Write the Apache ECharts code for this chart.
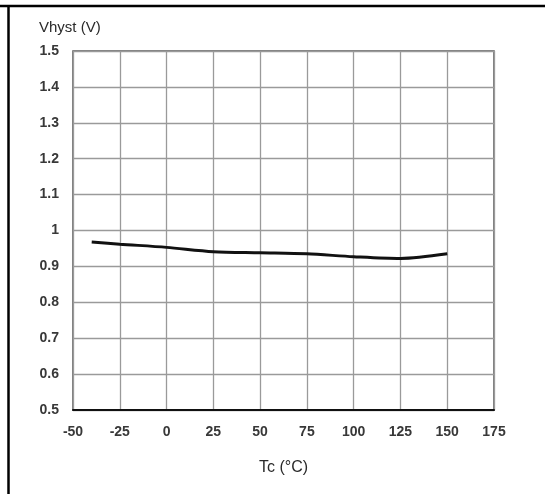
<!DOCTYPE html>
<html>
<head>
<meta charset="utf-8">
<script src="https://cdn.jsdelivr.net/npm/echarts@6/dist/echarts.min.js"></script>
<style>
html,body{margin:0;padding:0;background:#fff;}
#c{width:545px;height:494px;}
</style>
</head>
<body>
<div id="c"></div>
<script>
// Data
const temps = [-40, -25, 0, 25, 50, 75, 100, 125, 150];
const vhyst = [0.968, 0.962, 0.953, 0.941, 0.938, 0.935, 0.927, 0.922, 0.935];
const xTicks = [-50, -25, 0, 25, 50, 75, 100, 125, 150, 175];
const yTicks = [0.5, 0.6, 0.7, 0.8, 0.9, 1, 1.1, 1.2, 1.3, 1.4, 1.5];
const yTitle = 'Vhyst (V)';
const xTitle = 'Tc (°C)';

const font = 'Liberation Sans, Arial, sans-serif';
const chart = echarts.init(document.getElementById('c'));
chart.setOption({
  animation: false,
  backgroundColor: '#fff',
  grid: {left: 73, right: 51, top: 51, bottom: 84, show: true, borderColor: '#555', borderWidth: 1.5},
  xAxis: {
    type: 'value', min: xTicks[0], max: xTicks[xTicks.length - 1], interval: 25,
    name: xTitle, nameLocation: 'middle', nameGap: 50,
    nameTextStyle: {fontFamily: font, fontSize: 16, color: '#2a2a2a'},
    axisLine: {show: true, onZero: false, lineStyle: {color: '#111', width: 2}},
    axisTick: {show: false},
    axisLabel: {fontFamily: font, fontSize: 14, fontWeight: 'bold', color: '#383838', margin: 15},
    splitLine: {show: true, lineStyle: {color: '#9a9a9a', width: 1.3}}
  },
  yAxis: {
    type: 'value', min: yTicks[0], max: yTicks[yTicks.length - 1], interval: 0.1,
    axisLine: {show: false},
    axisTick: {show: false},
    axisLabel: {fontFamily: font, fontSize: 14, fontWeight: 'bold', color: '#383838', margin: 14,
      formatter: v => { const t = yTicks.find(k => Math.abs(k - v) < 1e-6); return t === undefined ? '' : String(t); }},
    splitLine: {show: true, lineStyle: {color: '#9a9a9a', width: 1.3}}
  },
  graphic: [
    {type: 'line', shape: {x1: 0, y1: 6, x2: 545, y2: 6}, style: {stroke: '#000', lineWidth: 2.5}},
    {type: 'line', shape: {x1: 8.5, y1: 6, x2: 8.5, y2: 494}, style: {stroke: '#000', lineWidth: 2.5}},
    {type: 'text', left: 39, top: 20, style: {text: yTitle, font: '15px ' + font, fill: '#2a2a2a'}}
  ],
  series: [{
    type: 'line', data: temps.map((t, i) => [t, vhyst[i]]),
    smooth: 0.3, showSymbol: false,
    lineStyle: {color: '#111', width: 3}
  }]
});
</script>
</body>
</html>
